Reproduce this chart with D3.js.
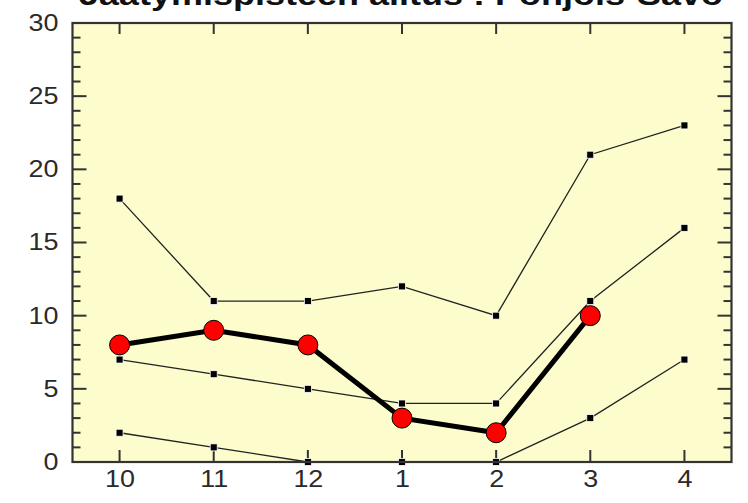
<!DOCTYPE html>
<html><head><meta charset="utf-8">
<script src="https://cdn.jsdelivr.net/npm/d3@7"></script>
<style>
html,body{margin:0;padding:0;background:#fff;}
svg{display:block;}
text{font-family:"Liberation Sans",Arial,sans-serif;}
</style></head>
<body>
<svg id="chart" width="748" height="503"></svg>
<script>
const title = "Jäätymispisteen alitus : Pohjois-Savo";
const months = ["10","11","12","1","2","3","4"];
const maxSeries = [18, 11, 11, 12, 10, 21, 23];
const upperSeries = [7, 6, 5, 4, 4, 11, 16];
const lowerSeries = [2, 1, 0, 0, 0, 3, 7];
const meanSeries = [8, 9, 8, 3, 2, 10, null];
const yTicks = [0, 5, 10, 15, 20, 25, 30];

const svg = d3.select("#chart");
const L = 72.5, R = 731.5, T = 23, B = 462;
const SX = 1.17;

const x = d3.scalePoint().domain(months).range([L, R]).padding(0.5);
const y = d3.scaleLinear().domain([0, 30]).range([B, T]);

svg.append("rect").attr("x", L).attr("y", T).attr("width", R - L).attr("height", B - T)
  .attr("fill", "#fdfccc");

const g = svg.append("g");
d3.range(0, 31).forEach(v => {
  const len = v % 5 === 0 ? 14 : 8;
  if (v === 0 || v === 30) return;
  g.append("line").attr("x1", L).attr("x2", L + len).attr("y1", y(v)).attr("y2", y(v))
    .attr("stroke", "#333").attr("stroke-width", 2);
  g.append("line").attr("x1", R).attr("x2", R - len).attr("y1", y(v)).attr("y2", y(v))
    .attr("stroke", "#333").attr("stroke-width", 2);
});
months.forEach(m => {
  g.append("line").attr("x1", x(m)).attr("x2", x(m)).attr("y1", B).attr("y2", B - 12)
    .attr("stroke", "#333").attr("stroke-width", 2);
  g.append("line").attr("x1", x(m)).attr("x2", x(m)).attr("y1", T).attr("y2", T + 11)
    .attr("stroke", "#333").attr("stroke-width", 2);
});

const yAxis = d3.axisLeft(y).tickValues(yTicks).tickSize(0).tickPadding(12);
const ya = svg.append("g").attr("transform", `translate(${L},0)`).call(yAxis);
ya.select(".domain").remove();
ya.selectAll("text").attr("font-size", 23).attr("fill", "#2a2a2a")
  .attr("font-family", "'Liberation Sans', Arial, sans-serif")
  .attr("transform", `scale(${SX},1)`);

const xAxis = d3.axisBottom(x).tickSize(0).tickPadding(9);
const xa = svg.append("g").attr("transform", `translate(0,${B})`).call(xAxis);
xa.select(".domain").remove();
xa.selectAll("text").attr("font-size", 23).attr("fill", "#2a2a2a")
  .attr("font-family", "'Liberation Sans', Arial, sans-serif")
  .attr("transform", `scale(${SX},1)`);

const line = d3.line().defined(d => d.v != null).x(d => x(d.m)).y(d => y(d.v));
const toPts = arr => arr.map((v, i) => ({m: months[i], v}));
[maxSeries, upperSeries, lowerSeries].forEach(s => {
  svg.append("path").datum(toPts(s)).attr("d", line).attr("fill", "none")
    .attr("stroke", "#222").attr("stroke-width", 1.3);
});
[maxSeries, upperSeries, lowerSeries].forEach(s => {
  svg.append("g").selectAll("rect").data(toPts(s)).join("rect")
    .attr("x", d => x(d.m) - 3.5).attr("y", d => y(d.v) - 3.5)
    .attr("width", 7).attr("height", 7).attr("fill", "#000")
    .attr("stroke", "#fff").attr("stroke-width", 0.8);
});

const mean = toPts(meanSeries).filter(d => d.v != null);
svg.append("path").datum(mean).attr("d", line).attr("fill", "none")
  .attr("stroke", "#000").attr("stroke-width", 5);
svg.append("g").selectAll("circle").data(mean).join("circle")
  .attr("cx", d => x(d.m)).attr("cy", d => y(d.v)).attr("r", 10)
  .attr("fill", "#ff0000").attr("stroke", "#000").attr("stroke-width", 1);

svg.append("rect").attr("x", L).attr("y", T).attr("width", R - L).attr("height", B - T)
  .attr("fill", "none").attr("stroke", "#333").attr("stroke-width", 2.2);

svg.append("g").attr("transform", `translate(401,5) scale(1.2,1)`)
  .append("text").attr("x", 0).attr("y", 0).attr("text-anchor", "middle")
  .attr("font-size", 30).attr("font-weight", "bold").attr("fill", "#111")
  .text(title);
</script>
</body></html>
